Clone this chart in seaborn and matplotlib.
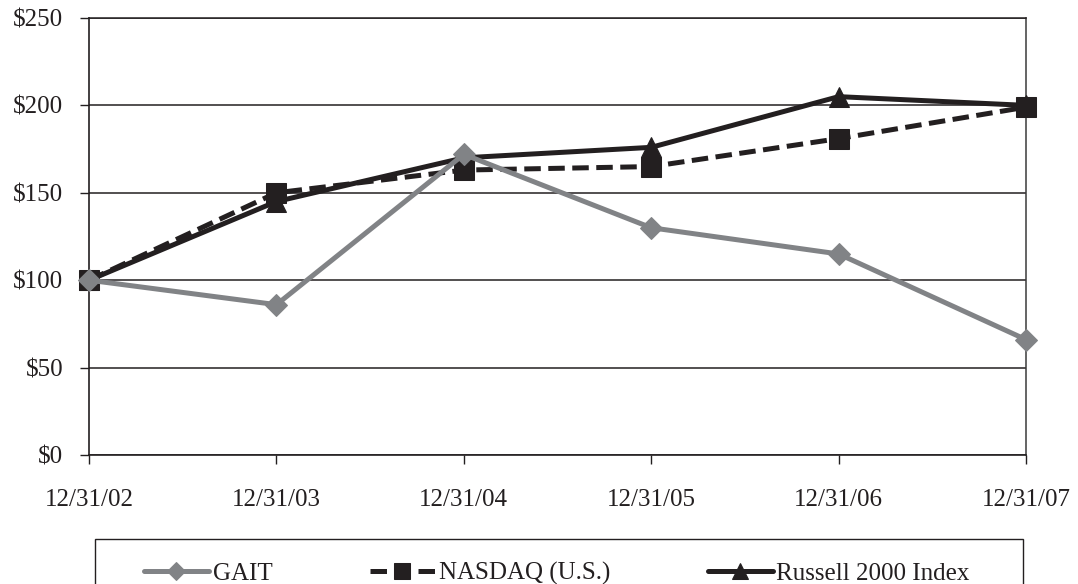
import matplotlib
matplotlib.use("Agg")
import matplotlib.pyplot as plt
import matplotlib.patches as mpatches
import seaborn as sns
import pandas as pd

# Cumulative total return of a $100 investment
dates = ["12/31/02", "12/31/03", "12/31/04", "12/31/05", "12/31/06", "12/31/07"]
gait = [100, 86, 172, 130, 115, 66]
nasdaq = [100, 150, 163, 165, 181, 199]
russell = [100, 145, 170, 176, 205, 200]
series_names = ["GAIT", "NASDAQ (U.S.)", "Russell 2000 Index"]
y_ticks = [0, 50, 100, 150, 200, 250]
y_labels = ["$0", "$50", "$100", "$150", "$200", "$250"]

INK = "#231F20"
GRAY = "#818386"

sns.set_theme(style="white")
plt.rcParams["font.family"] = ["Liberation Serif", "DejaVu Serif"]
plt.rcParams["font.size"] = 18

frames = []
for name, vals in zip(series_names, [gait, nasdaq, russell]):
    frames.append(pd.DataFrame({"date": dates, "pos": range(len(dates)),
                                "value": vals, "series": name}))
df = pd.concat(frames, ignore_index=True)

fig = plt.figure(figsize=(10.78, 5.84), dpi=100)
ax = fig.add_axes([0.0826, 0.2209, 0.8692, 0.7483])

styles = {
    "Russell 2000 Index": dict(color=INK, marker="^", markersize=15, linestyle="-", zorder=3),
    "NASDAQ (U.S.)": dict(color=INK, marker="s", markersize=14, linestyle=(0, (3.3, 1.5)), zorder=4),
    "GAIT": dict(color=GRAY, marker="D", markersize=11, linestyle="-", zorder=5),
}
for name in ["Russell 2000 Index", "NASDAQ (U.S.)", "GAIT"]:
    st = styles[name]
    sub = df[df["series"] == name]
    sns.lineplot(data=sub, x="pos", y="value", ax=ax, label=name,
                 color=st["color"], marker=st["marker"], markersize=st["markersize"],
                 markeredgecolor=st["color"], markerfacecolor=st["color"],
                 linestyle=st["linestyle"], linewidth=3.6, zorder=st["zorder"],
                 clip_on=False, legend=False)

ax.set_xlim(0, len(dates) - 1)
ax.set_ylim(0, 250)
ax.set_xticks(range(len(dates)))
ax.set_xticklabels(dates)
ax.set_yticks(y_ticks)
ax.set_yticklabels(y_labels)
ax.set_xlabel("")
ax.set_ylabel("")

ax.yaxis.grid(True, color=INK, linewidth=1.1)
ax.xaxis.grid(False)
ax.set_axisbelow(True)
for side in ["left", "bottom"]:
    ax.spines[side].set_color(INK)
    ax.spines[side].set_linewidth(1.2)
ax.spines["top"].set_color(INK)
ax.spines["top"].set_linewidth(1.1)
ax.spines["right"].set_color("#3a3a3a")
ax.spines["right"].set_linewidth(1.1)

ax.tick_params(axis="both", which="major", direction="out", length=6.5,
               width=1.0, color=INK, labelsize=18, labelcolor=INK)
ax.tick_params(axis="x", pad=18, bottom=True)
ax.tick_params(axis="y", pad=12, left=True)

# Legend frame running off the bottom edge
frame = mpatches.Rectangle((95 / 1078, -0.05), 928 / 1078, 0.05 + (1 - 539 / 584),
                           transform=fig.transFigure, fill=False,
                           edgecolor=INK, linewidth=1.0, clip_on=False)
fig.patches.append(frame)

handles, labels = ax.get_legend_handles_labels()
order = [labels.index(n) for n in series_names]
fig.legend([handles[i] for i in order], [labels[i] for i in order],
           loc="center", bbox_to_anchor=(0.5165, 0.018), ncol=3, frameon=False,
           borderpad=0, handlelength=2.6, handletextpad=0.15, columnspacing=3.9,
           markerscale=0.8, fontsize=18, labelcolor=INK)

fig.savefig("out.png", dpi=100)
